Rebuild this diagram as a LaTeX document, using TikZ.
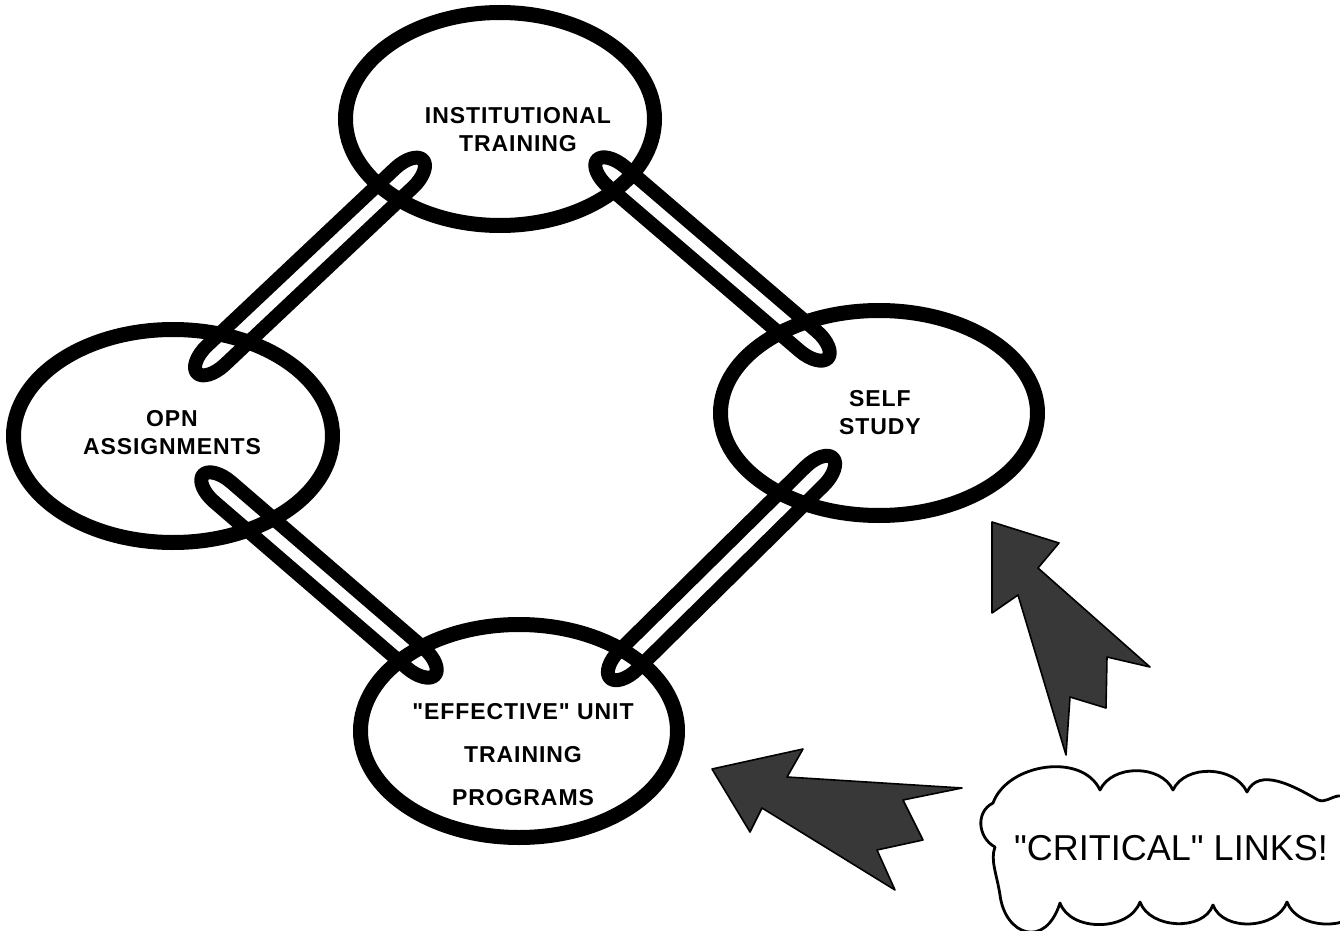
\documentclass[tikz,border=0pt]{standalone}
\usepackage{fontspec}
\setmainfont{Liberation Sans}
\newfontfamily\lblfont[LetterSpace=4]{Liberation Sans}
\newfontfamily\critfont{Liberation Sans}
\usetikzlibrary{shapes.geometric,calc}
\tikzset{
  ring/.style={draw=black, ellipse, line width=7.5pt, inner sep=0pt, outer sep=0pt},
  chainstroke/.style={draw=black, line width=7pt, line join=round},
  lbl/.style={align=center, inner sep=0pt, font=\lblfont\bfseries\fontsize{11.5}{14}\selectfont},
  bigarrow/.style={fill=black!78, draw=black, line width=0.8pt, line join=round},
  cloudline/.style={draw=black, line width=1.4pt, fill=white, line join=round},
}
% chain link between two named end points (#1 start, #2 end)
\newcommand\drawchainlink[2]{%
  \draw[chainstroke] let \p1=(#1), \p2=(#2), \n1={atan2(\y2-\y1,\x2-\x1)}, \n2={veclen(\x2-\x1,\y2-\y1)/2} in
    [shift={($(#1)!0.5!(#2)$)}, rotate=\n1]
    ({-\n2*1pt+13pt},6.5pt) -- ({\n2*1pt-13pt},6.5pt)
    arc[start angle=90, end angle=-90, x radius=13pt, y radius=6.5pt]
    -- ({-\n2*1pt+13pt},-6.5pt)
    arc[start angle=270, end angle=90, x radius=13pt, y radius=6.5pt] -- cycle;}
\begin{document}
\begin{tikzpicture}[x=0.5pt,y=0.5pt]
\useasboundingbox (0,0) rectangle (1340,-931);
\clip (0,0) rectangle (1340,-931);

% rings
\node[ring, minimum width=154.5pt, minimum height=106.5pt] (inst) at (500,-119) {};
\node[ring, minimum width=159.5pt, minimum height=106.5pt] (opn)  at (173,-436) {};
\node[ring, minimum width=158.5pt, minimum height=102.5pt] (self) at (879,-413) {};
\node[ring, minimum width=158.5pt, minimum height=106.5pt] (unit) at (519,-731) {};

% labels
\node[lbl] (inst-t) at (518,-130) {INSTITUTIONAL\\TRAINING};
\node[lbl] (opn-t)  at (172,-433) {OPN\\ASSIGNMENTS};
\node[lbl] (self-t) at (880,-413) {SELF\\STUDY};
\node[lbl, font=\lblfont\bfseries\fontsize{11.5}{21.5}\selectfont] (unit-t) at (523,-755) {"EFFECTIVE" UNIT\\TRAINING\\PROGRAMS};

% link end points (inside the rings)
\coordinate (tl-a) at (423,-160);  \coordinate (tl-b) at (197,-373);
\coordinate (tr-a) at (597,-160);  \coordinate (tr-b) at (828,-358);
\coordinate (lb-a) at (203,-475);  \coordinate (lb-b) at (435,-675);
\coordinate (br-a) at (610,-678);  \coordinate (br-b) at (833,-458);

\drawchainlink{tl-b}{tl-a}
\drawchainlink{tr-a}{tr-b}
\drawchainlink{lb-a}{lb-b}
\drawchainlink{br-a}{br-b}

% big arrows
\draw[bigarrow] (992,-522) -- (1059,-543) -- (1038,-568) -- (1150,-667) -- (1107,-657)
  -- (1106,-708) -- (1070,-697) -- (1066,-755) -- (1018,-595) -- (992,-613) -- cycle;
\draw[bigarrow] (712,-769) -- (803,-749) -- (787,-777) -- (962,-788) -- (903,-800)
  -- (923,-840) -- (877,-850) -- (895,-890) -- (762,-808) -- (750,-832) -- cycle;

% cloud
\draw[cloudline] (993,-803)
  to[out=70,in=115] (1100,-790)
  to[out=65,in=115] (1173,-790)
  to[out=65,in=115] (1247,-792)
  to[out=65,in=150] (1318,-800)
  to[out=-20,in=190] (1338,-796)
  -- (1365,-796) -- (1365,-903)
  to[out=-110,in=-70] (1287,-902)
  to[out=-110,in=-70] (1213,-905)
  to[out=-110,in=-70] (1140,-902)
  to[out=-110,in=-70] (1060,-903)
  .. controls (1045,-950) and (1005,-935) .. (1000,-895)
  .. controls (997,-875) and (990,-860) .. (995,-847)
  .. controls (978,-838) and (975,-812) .. (993,-803) -- cycle;
\node[font=\critfont\fontsize{18}{20}\selectfont, inner sep=0pt] (crit) at (1171,-848) {"CRITICAL" LINKS!};
\end{tikzpicture}
\end{document}
